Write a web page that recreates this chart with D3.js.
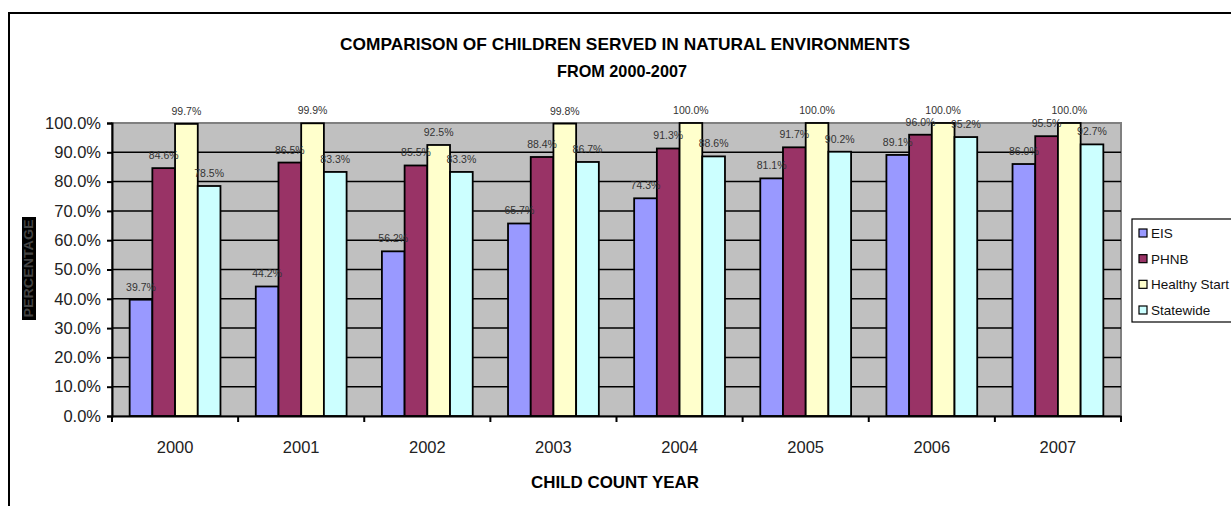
<!DOCTYPE html>
<html>
<head>
<meta charset="utf-8">
<script src="https://cdn.jsdelivr.net/npm/d3@7"></script>
<style>
  body { margin: 0; background: #fff; }
  svg { display: block; font-family: "Liberation Sans", Arial, sans-serif; }
</style>
</head>
<body>
<div id="chart"></div>
<script>
// Children served in natural environments, 2000-2007

const years = ['2000', '2001', '2002', '2003', '2004', '2005', '2006', '2007'];
const seriesNames = ['EIS', 'PHNB', 'Healthy Start', 'Statewide'];
const eis = [39.7, 44.2, 56.2, 65.7, 74.3, 81.1, 89.1, 86.0];
const phnb = [84.6, 86.5, 85.5, 88.4, 91.3, 91.7, 96.0, 95.5];
const healthyStart = [99.7, 99.9, 92.5, 99.8, 100.0, 100.0, 100.0, 100.0];
const statewide = [78.5, 83.3, 83.3, 86.7, 88.6, 90.2, 95.2, 92.7];
const yTicks = [0, 10, 20, 30, 40, 50, 60, 70, 80, 90, 100];

const colors = ['#9999FF', '#993366', '#FFFFCC', '#CCFFFF'];
const allSeries = [eis, phnb, healthyStart, statewide];

function drawChart() {
    const width = 1231, height = 506;
    const plot = { left: 112, right: 1121, top: 123, bottom: 416 };

    const svg = d3.select('#chart').append('svg')
        .attr('width', width)
        .attr('height', height);

    // outer chart border (runs off right / bottom)
    svg.append('rect')
        .attr('x', 9).attr('y', 13)
        .attr('width', 1300).attr('height', 600)
        .attr('fill', '#fff')
        .attr('stroke', '#000')
        .attr('stroke-width', 2);

    const x0 = d3.scaleBand().domain(years).range([plot.left, plot.right]);
    const bw = x0.bandwidth();
    const x1 = d3.scaleBand().domain(seriesNames).range([bw * 0.14, bw * 0.86]);
    const y = d3.scaleLinear().domain([0, 100]).range([plot.bottom, plot.top]);

    // plot area
    svg.append('rect')
        .attr('x', plot.left).attr('y', plot.top)
        .attr('width', plot.right - plot.left)
        .attr('height', plot.bottom - plot.top)
        .attr('fill', '#C0C0C0')
        .attr('stroke', '#808080')
        .attr('stroke-width', 2);

    // gridlines
    svg.append('g')
        .selectAll('line')
        .data(yTicks.filter(d => d > 0 && d < 100))
        .enter().append('line')
        .attr('x1', plot.left).attr('x2', plot.right)
        .attr('y1', d => y(d)).attr('y2', d => y(d))
        .attr('stroke', '#000')
        .attr('stroke-width', 1.5);

    // bars
    const groups = svg.append('g')
        .selectAll('g')
        .data(years)
        .enter().append('g')
        .attr('transform', d => `translate(${x0(d)},0)`);

    groups.selectAll('rect')
        .data((yr, i) => seriesNames.map((s, k) => ({ s, k, v: allSeries[k][i] })))
        .enter().append('rect')
        .attr('x', d => x1(d.s))
        .attr('y', d => y(d.v))
        .attr('width', x1.bandwidth())
        .attr('height', d => y(0) - y(d.v))
        .attr('fill', d => colors[d.k])
        .attr('stroke', '#000')
        .attr('stroke-width', 1.8);

    groups.selectAll('text')
        .data((yr, i) => seriesNames.map((s, k) => ({ s, k, v: allSeries[k][i] })))
        .enter().append('text')
        .attr('x', d => x1(d.s) + x1.bandwidth() / 2)
        .attr('y', d => y(d.v) - 9)
        .attr('text-anchor', 'middle')
        .attr('font-size', '10.5px')
        .attr('fill', '#333')
        .text(d => d.v.toFixed(1) + '%');

    // y axis
    const yAxis = d3.axisLeft(y)
        .tickValues(yTicks)
        .tickSize(5)
        .tickPadding(6)
        .tickFormat(d => d.toFixed(1) + '%');
    const gy = svg.append('g')
        .attr('transform', `translate(${plot.left},0)`)
        .call(yAxis);
    gy.select('.domain').attr('stroke', '#000').attr('stroke-width', 2);
    gy.selectAll('.tick line').attr('stroke', '#000').attr('stroke-width', 2);
    gy.selectAll('.tick text')
        .attr('font-size', '16.5px')
        .attr('fill', '#222')
        .attr('font-family', '"Liberation Sans", Arial, sans-serif');

    // x axis
    const xAxis = d3.axisBottom(x0).tickSize(0).tickPadding(25);
    const gx = svg.append('g')
        .attr('transform', `translate(0,${plot.bottom})`)
        .call(xAxis);
    gx.select('.domain').attr('stroke', '#000').attr('stroke-width', 2);
    gx.selectAll('.tick text')
        .attr('font-size', '16.5px')
        .attr('fill', '#222')
        .attr('font-family', '"Liberation Sans", Arial, sans-serif');
    // category boundary ticks
    gx.append('g').selectAll('line')
        .data(years.concat(['end']))
        .enter().append('line')
        .attr('x1', (d, i) => plot.left + i * bw)
        .attr('x2', (d, i) => plot.left + i * bw)
        .attr('y1', 0).attr('y2', 6)
        .attr('stroke', '#000')
        .attr('stroke-width', 2);

    // titles
    svg.append('text')
        .attr('x', 625).attr('y', 50)
        .attr('text-anchor', 'middle')
        .attr('font-size', '17px')
        .attr('font-weight', 'bold')
        .attr('textLength', 570)
        .attr('lengthAdjust', 'spacingAndGlyphs')
        .text('COMPARISON OF CHILDREN SERVED IN NATURAL ENVIRONMENTS');
    svg.append('text')
        .attr('x', 622).attr('y', 76.5)
        .attr('text-anchor', 'middle')
        .attr('font-size', '17px')
        .attr('font-weight', 'bold')
        .attr('textLength', 130)
        .attr('lengthAdjust', 'spacingAndGlyphs')
        .text('FROM 2000-2007');

    svg.append('text')
        .attr('x', 615).attr('y', 488)
        .attr('text-anchor', 'middle')
        .attr('font-size', '17px')
        .attr('font-weight', 'bold')
        .attr('textLength', 168)
        .attr('lengthAdjust', 'spacingAndGlyphs')
        .text('CHILD COUNT YEAR');

    // y axis title (dark box)
    svg.append('rect')
        .attr('x', 22).attr('y', 217)
        .attr('width', 14).attr('height', 103)
        .attr('fill', '#000');
    svg.append('text')
        .attr('transform', 'translate(33,268.5) rotate(-90)')
        .attr('text-anchor', 'middle')
        .attr('font-size', '12px')
        .attr('font-weight', 'bold')
        .attr('fill', '#444')
        .attr('textLength', 98)
        .attr('lengthAdjust', 'spacingAndGlyphs')
        .text('PERCENTAGE');

    // legend
    const legend = svg.append('g').attr('transform', 'translate(1132,219)');
    legend.append('rect')
        .attr('width', 120).attr('height', 103)
        .attr('fill', '#fff')
        .attr('stroke', '#000')
        .attr('stroke-width', 1.2);
    const rowY = d3.scalePoint().domain(seriesNames).range([14, 91]);
    const items = legend.selectAll('g.item')
        .data(seriesNames)
        .enter().append('g')
        .attr('class', 'item')
        .attr('transform', d => `translate(0,${rowY(d)})`);
    items.append('rect')
        .attr('x', 7).attr('y', -4)
        .attr('width', 8).attr('height', 8)
        .attr('fill', (d, i) => colors[i])
        .attr('stroke', '#000')
        .attr('stroke-width', 1.2);
    items.append('text')
        .attr('x', 19).attr('y', 5)
        .attr('font-size', '13.5px')
        .attr('fill', '#111')
        .text(d => d);
}

drawChart();
</script>
</body>
</html>
